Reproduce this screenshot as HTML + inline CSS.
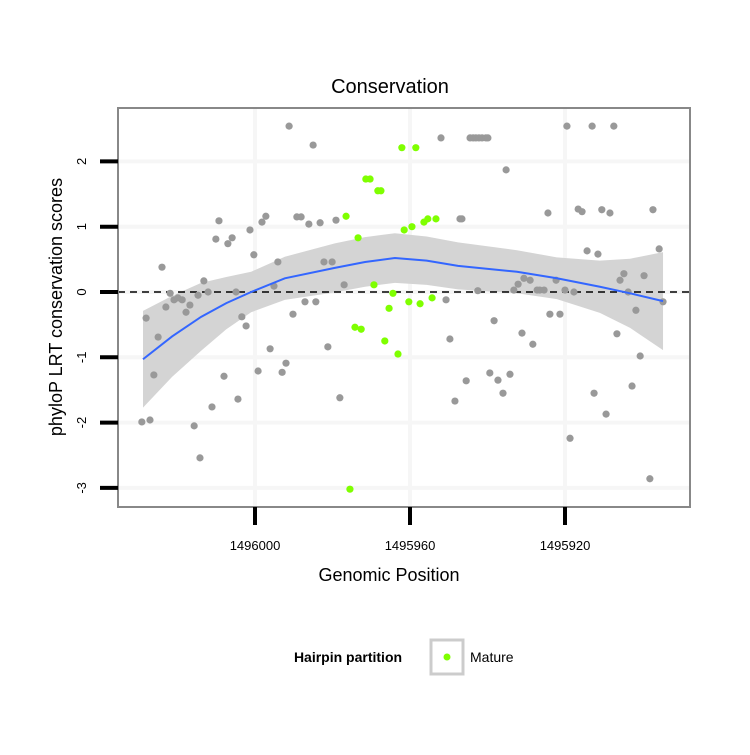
<!DOCTYPE html>
<html><head><meta charset="utf-8"><style>
body{margin:0;background:#fff}
svg text{font-family:"Liberation Sans",sans-serif}
</style></head><body>
<svg id="chart" width="750" height="750" viewBox="0 0 750 750">
<rect x="0" y="0" width="750" height="750" fill="#fff"/>
<text x="390" y="93" font-size="20" text-anchor="middle">Conservation</text>
<g id="grid"></g>
<path id="band" fill="#d4d4d4"/>
<line id="zero" stroke="#000" stroke-width="1.6" stroke-dasharray="7,5"/>
<g id="grayPts"></g>
<g id="greenPts"></g>
<path id="smooth" fill="none" stroke="#3366ff" stroke-width="2"/>
<rect x="118" y="108" width="572" height="399" fill="none" stroke="#888" stroke-width="2"/>
<g id="axes"></g>
<text x="389" y="581" font-size="18" text-anchor="middle">Genomic Position</text>
<text transform="translate(62,307) rotate(-90)" font-size="18" text-anchor="middle">phyloP LRT conservation scores</text>
<g>
<text x="348" y="662" font-size="14" font-weight="bold" text-anchor="middle">Hairpin partition</text>
<rect x="431" y="640" width="32" height="34" fill="#fff" stroke="#ccc" stroke-width="3"/>
<circle cx="447" cy="657" r="3.5" fill="#7fff00"/>
<text x="470" y="662" font-size="14">Mature</text>
</g>
</svg>
<script>
const xTicks=[1496000,1495960,1495920];
const yTicks=[2,1,0,-1,-2,-3];
const grayX=[1496029.2,1496028.1,1496027.1,1496026.1,1496025.0,1496024.0,1496023.0,1496021.9,1496020.9,1496019.9,1496018.8,1496017.8,1496016.8,1496015.7,1496014.7,1496014.2,1496013.2,1496012.1,1496011.1,1496010.1,1496009.3,1496008.0,1496007.0,1496005.9,1496004.9,1496004.4,1496003.4,1496002.3,1496001.3,1496000.3,1495999.2,1495998.2,1495997.2,1495996.1,1495995.1,1495994.1,1495993.0,1495992.0,1495991.2,1495990.2,1495989.2,1495988.1,1495987.1,1495986.1,1495985.0,1495984.3,1495983.2,1495982.2,1495981.2,1495980.1,1495979.1,1495978.1,1495977.0,1495952.0,1495950.7,1495949.7,1495948.4,1495947.1,1495946.6,1495945.5,1495944.5,1495943.7,1495943.0,1495942.2,1495941.4,1495940.4,1495939.9,1495942.5,1495939.4,1495938.3,1495937.3,1495936.0,1495935.2,1495934.2,1495933.2,1495932.1,1495931.1,1495930.6,1495929.0,1495928.3,1495927.2,1495926.5,1495925.4,1495924.4,1495923.9,1495922.3,1495921.3,1495920.0,1495919.5,1495918.7,1495917.7,1495916.6,1495915.6,1495914.3,1495913.0,1495912.5,1495911.5,1495910.5,1495909.4,1495908.4,1495907.4,1495906.6,1495905.8,1495904.8,1495903.7,1495902.7,1495901.7,1495900.6,1495899.6,1495898.1,1495897.3,1495895.7,1495894.7];
const grayY=[-1.99,-0.40,-1.96,-1.27,-0.69,0.38,-0.23,-0.02,-0.12,-0.09,-0.12,-0.31,-0.20,-2.05,-0.05,-2.54,0.17,0,-1.76,0.81,1.09,-1.29,0.74,0.83,0,-1.64,-0.38,-0.52,0.95,0.57,-1.21,1.07,1.16,-0.87,0.09,0.46,-1.23,-1.09,2.54,-0.34,1.15,1.15,-0.15,1.04,2.25,-0.15,1.06,0.46,-0.84,0.46,1.10,-1.62,0.11,2.36,-0.12,-0.72,-1.67,1.12,1.12,-1.36,2.36,2.36,2.36,2.36,2.36,2.36,2.36,0.02,-1.24,-0.44,-1.35,-1.55,1.87,-1.26,0.03,0.12,-0.63,0.21,0.18,-0.80,0.03,0.03,0.03,1.21,-0.34,0.18,-0.34,0.03,2.54,-2.24,0,1.27,1.23,0.63,2.54,-1.55,0.58,1.26,-1.87,1.21,2.54,-0.64,0.18,0.28,0,-1.44,-0.28,-0.98,0.25,-2.86,1.26,0.66,-0.15];
const matureX=[1495976.5,1495975.5,1495974.2,1495973.4,1495972.6,1495971.4,1495970.3,1495969.3,1495968.3,1495967.5,1495966.5,1495965.4,1495964.4,1495963.1,1495962.1,1495961.5,1495960.3,1495959.5,1495958.5,1495957.4,1495956.4,1495955.4,1495954.3,1495953.3];
const matureY=[1.16,-3.02,-0.54,0.83,-0.57,1.73,1.73,0.11,1.55,1.55,-0.75,-0.25,-0.02,-0.95,2.21,0.95,-0.15,1.00,2.21,-0.18,1.07,1.12,-0.09,1.12];
const smoothX=[1496028.9,1496021.4,1496013.9,1496007.4,1496001.0,1495992.3,1495979.4,1495971.6,1495963.9,1495955.7,1495947.6,1495932.4,1495922.1,1495911.0,1495903.2,1495894.7];
const smoothY=[-1.03,-0.68,-0.38,-0.17,0,0.21,0.37,0.46,0.52,0.48,0.40,0.31,0.21,0.08,-0.02,-0.14];
const smoothSE=[0.74,0.62,0.52,0.40,0.31,0.33,0.375,0.38,0.38,0.37,0.36,0.33,0.32,0.40,0.53,0.75];

const sx=v=>255+(1496000-v)*3.875;
const sy=v=>292-v*65.3;
const NS='http://www.w3.org/2000/svg';
function mk(tag,attrs,parent){const e=document.createElementNS(NS,tag);for(const k in attrs)e.setAttribute(k,attrs[k]);parent.appendChild(e);return e;}
const grid=document.getElementById('grid'),axes=document.getElementById('axes');
xTicks.forEach((t,i)=>{
  const g=mk('line',{x1:sx(t),x2:sx(t),y1:108,y2:507,stroke:'#f6f6f6','stroke-width':4},grid);
  
  
  const tk=mk('line',{x1:sx(t),x2:sx(t),y1:507,y2:525,stroke:'#000','stroke-width':4},axes);
  
  
  const tl=mk('text',{x:sx(t),y:550,'font-size':13,'text-anchor':'middle'},axes);
  tl.textContent=t;
  
  
});
yTicks.forEach(t=>{
  const g=mk('line',{x1:118,x2:690,y1:sy(t),y2:sy(t),stroke:'#f6f6f6','stroke-width':4},grid);
  
  
  const tk=mk('line',{x1:100,x2:118,y1:sy(t),y2:sy(t),stroke:'#000','stroke-width':4},axes);
  
  
  const tl=mk('text',{transform:`translate(86,${sy(t)}) rotate(-90)`,'font-size':13,'text-anchor':'middle'},axes);
  tl.textContent=t;
  
  
});
const z=document.getElementById('zero');
z.setAttribute('x1',118);z.setAttribute('x2',690);z.setAttribute('y1',sy(0));z.setAttribute('y2',sy(0));
let up='',dn='';
smoothX.forEach((x,i)=>{up+=(i?'L':'M')+sx(x)+','+sy(smoothY[i]+smoothSE[i]);});
for(let i=smoothX.length-1;i>=0;i--){dn+='L'+sx(smoothX[i])+','+sy(smoothY[i]-smoothSE[i]);}
document.getElementById('band').setAttribute('d',up+dn+'Z');
document.getElementById('smooth').setAttribute('d',smoothX.map((x,i)=>(i?'L':'M')+sx(x)+','+sy(smoothY[i])).join(''));
const gp=document.getElementById('grayPts');
grayX.forEach((x,i)=>{
  const c=mk('circle',{cx:sx(x),cy:sy(grayY[i]),r:3.6,fill:'#999'},gp);
  
  
});
const mp=document.getElementById('greenPts');
matureX.forEach((x,i)=>{
  const c=mk('circle',{cx:sx(x),cy:sy(matureY[i]),r:3.6,fill:'#7fff00'},mp);
  
  
});
</script>
</body></html>
